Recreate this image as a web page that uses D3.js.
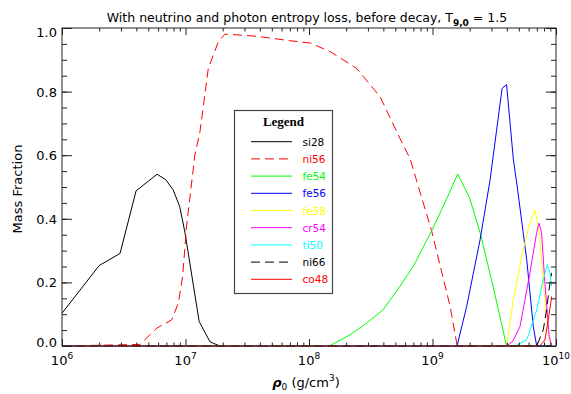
<!DOCTYPE html>
<html>
<head>
<meta charset="utf-8">
<script src="https://cdn.jsdelivr.net/npm/d3@7"></script>
<style>
  body { margin: 0; background: #fff; }
  svg { display: block; font-family: "DejaVu Sans", sans-serif; }
</style>
</head>
<body>
<div id="chart"></div>
<script>
// [rho0 (g/cm^3), mass fraction]
const si28 = [[1e6, 0.103], [2e6, 0.253], [2.95e6, 0.291], [3.98e6, 0.488], [5.89e6, 0.54], [6.92e6, 0.523],
  [7.94e6, 0.491], [8.97e6, 0.439], [9.9e6, 0.357], [1.29e7, 0.077], [1.58e7, 0.013], [1.9e7, 0], [9.23e9, 0]];
const ni56 = [[1e6, 0], [4.29e6, 0.005], [5.85e6, 0.056], [7.73e6, 0.082], [8.75e6, 0.135], [9.48e6, 0.219],
  [1.02e7, 0.377], [1.19e7, 0.6], [1.31e7, 0.674], [1.53e7, 0.873], [1.85e7, 0.958], [2.09e7, 0.981],
  [3.78e7, 0.974], [7.0e7, 0.96], [1.02e8, 0.953], [1.48e8, 0.926], [2.43e8, 0.873], [3.76e8, 0.784],
  [5.46e8, 0.652], [6.58e8, 0.589], [9.84e8, 0.362], [1.39e9, 0.124], [1.58e9, 0.003], [1.62e9, 0], [9.23e9, 0]];
const fe54 = [[1e6, 0], [1.46e8, 0], [2.15e8, 0.035], [2.93e8, 0.072], [3.98e8, 0.114], [5.46e8, 0.188],
  [7.0e8, 0.251], [9.84e8, 0.362], [1.3e9, 0.462], [1.6e9, 0.541], [1.99e9, 0.467], [2.43e9, 0.357],
  [3.09e9, 0.188], [3.98e9, 0], [9.23e9, 0]];
const fe56 = [[1e6, 0], [1.58e9, 0], [1.89e9, 0.124], [2.43e9, 0.335], [2.92e9, 0.52], [3.66e9, 0.81],
  [3.98e9, 0.822], [4.51e9, 0.589], [4.86e9, 0.499], [5.79e9, 0.272], [6.55e9, 0.061], [6.98e9, 0], [9.23e9, 0]];
const fe58 = [[1e6, 0], [3.98e9, 0], [4.51e9, 0.146], [5.43e9, 0.304], [6.15e9, 0.388], [6.76e9, 0.428],
  [7.33e9, 0.357], [7.89e9, 0.198], [8.67e9, 0.04], [9.06e9, 0], [9.23e9, 0]];
const cr54 = [[1e6, 0], [3.98e9, 0], [4.47e9, 0.015], [5.11e9, 0.061], [6.15e9, 0.23], [6.98e9, 0.357],
  [7.28e9, 0.386], [7.64e9, 0.357], [8.13e9, 0.198], [8.81e9, 0.03], [9.23e9, 0]];
const ti50 = [[1e6, 0], [4.66e9, 0], [5.79e9, 0.019], [6.98e9, 0.114], [7.89e9, 0.209], [8.51e9, 0.256],
  [8.93e9, 0.23], [9.23e9, 0.188]];
const ni66 = [[1e6, 0], [6.98e9, 0], [7.89e9, 0.051], [8.39e9, 0.114], [8.93e9, 0.198], [9.23e9, 0.23]];
const co48 = [[1e6, 0], [7.41e9, 0], [8.13e9, 0.019], [8.65e9, 0.082], [9.06e9, 0.135], [9.23e9, 0.156]];

const names = ['si28', 'ni56', 'fe54', 'fe56', 'fe58', 'cr54', 'ti50', 'ni66', 'co48'];
const xDecades = [1e6, 1e7, 1e8, 1e9, 1e10];
const yTicks = [0, 0.2, 0.4, 0.6, 0.8, 1.0];

const series = [
  { name: 'si28', data: si28, color: '#000000', dash: null },
  { name: 'ni56', data: ni56, color: '#ff0000', dash: '9,5' },
  { name: 'fe54', data: fe54, color: '#00ff00', dash: null },
  { name: 'fe56', data: fe56, color: '#0000ff', dash: null },
  { name: 'fe58', data: fe58, color: '#ffff00', dash: null },
  { name: 'cr54', data: cr54, color: '#ff00ff', dash: null },
  { name: 'ti50', data: ti50, color: '#00ffff', dash: null },
  { name: 'ni66', data: ni66, color: '#000000', dash: '9,5' },
  { name: 'co48', data: co48, color: '#ff0000', dash: null }
];

const width = 571, height = 394;
const margin = { top: 28, right: 15, bottom: 48, left: 62 };
const x0 = margin.left, x1 = width - margin.right;
const y0 = height - margin.bottom, y1 = margin.top;

const svg = d3.select('#chart').append('svg')
  .attr('width', width)
  .attr('height', height);

const x = d3.scaleLog().domain([1e6, 1e10]).range([x0, x1]);
const y = d3.scaleLinear().domain([0, 1]).range([y0, y1]);

const xMinor = x.ticks().filter(v => !xDecades.includes(v));
const yMinor = y.ticks(20);

const line = d3.line()
  .x(d => x(d[0]))
  .y(d => y(d[1]));

// curves
const plot = svg.append('g');
series.forEach(s => {
  plot.append('path')
    .datum(s.data)
    .attr('fill', 'none')
    .attr('stroke', s.color)
    .attr('stroke-width', 1)
    .attr('stroke-dasharray', s.dash)
    .attr('d', line);
});

// frame + inward ticks on all four sides
function ticks(axis, tx, ty) {
  const g = svg.append('g').attr('transform', `translate(${tx},${ty})`).call(axis);
  g.select('.domain').remove();
  g.selectAll('line').attr('stroke', '#222');
  return g;
}
ticks(d3.axisBottom(x).tickValues(xDecades).tickSize(-7).tickFormat(''), 0, y0);
ticks(d3.axisBottom(x).tickValues(xMinor).tickSize(-3.5).tickFormat(''), 0, y0);
ticks(d3.axisTop(x).tickValues(xDecades).tickSize(-7).tickFormat(''), 0, y1);
ticks(d3.axisTop(x).tickValues(xMinor).tickSize(-3.5).tickFormat(''), 0, y1);
ticks(d3.axisLeft(y).tickValues(yMinor).tickSize(-5).tickFormat(''), x0, 0);
ticks(d3.axisRight(y).tickValues(yMinor).tickSize(-5).tickFormat(''), x1, 0);
ticks(d3.axisRight(y).tickValues(yTicks).tickSize(-10).tickFormat(''), x1, 0);
const yAxis = ticks(d3.axisLeft(y).tickValues(yTicks).tickSize(-10).tickPadding(5).tickFormat(d3.format('.1f')), x0, 0);
yAxis.selectAll('text')
  .attr('font-family', '"DejaVu Sans", sans-serif')
  .attr('font-size', 13)
  .attr('fill', '#000')
  .attr('dy', d => d === 0 ? '0.0em' : d === 1 ? '0.65em' : '0.35em');

svg.append('rect')
  .attr('x', x0).attr('y', y1)
  .attr('width', x1 - x0).attr('height', y0 - y1)
  .attr('fill', 'none')
  .attr('stroke', '#222')
  .attr('stroke-width', 1);

// x tick labels 10^n
const xl = svg.append('g').selectAll('text')
  .data(xDecades)
  .join('text')
  .attr('x', d => x(d))
  .attr('y', y0 + 19)
  .attr('text-anchor', 'middle')
  .attr('font-size', 13);
xl.append('tspan').text('10');
xl.append('tspan').attr('dy', -6).attr('font-size', 9).text(d => Math.round(Math.log10(d)));

// title
const title = svg.append('text')
  .attr('x', (x0 + x1) / 2 - 2)
  .attr('y', 22)
  .attr('text-anchor', 'middle')
  .attr('font-size', 12.5);
title.append('tspan').text('With neutrino and photon entropy loss, before decay, T');
title.append('tspan').attr('dy', 4).attr('font-size', 9).attr('font-weight', 'bold').text('9,0');
title.append('tspan').attr('dy', -4).text(' = 1.5');

// axis titles
const xt = svg.append('text')
  .attr('x', (x0 + x1) / 2 - 3)
  .attr('y', 387)
  .attr('text-anchor', 'middle')
  .attr('font-size', 13);
xt.append('tspan').attr('font-weight', 'bold').attr('font-style', 'italic').text('ρ');
xt.append('tspan').attr('dy', 3).attr('font-size', 9).text('0');
xt.append('tspan').attr('dy', -3).text(' (g/cm');
xt.append('tspan').attr('dy', -6).attr('font-size', 9).text('3');
xt.append('tspan').attr('dy', 6).text(')');

svg.append('text')
  .attr('transform', `translate(22,${(y0 + y1) / 2 + 2}) rotate(-90)`)
  .attr('text-anchor', 'middle')
  .attr('font-size', 13)
  .text('Mass Fraction');

// legend
const lg = svg.append('g');
lg.append('rect')
  .attr('x', 234.5).attr('y', 110.5)
  .attr('width', 98).attr('height', 183)
  .attr('fill', '#fff')
  .attr('stroke', '#444')
  .attr('stroke-width', 1.2);
lg.append('text')
  .attr('x', 283.5).attr('y', 126)
  .attr('text-anchor', 'middle')
  .attr('font-family', '"Liberation Serif", "DejaVu Serif", serif')
  .attr('font-weight', 'bold')
  .attr('font-size', 13)
  .text('Legend');

const row = lg.selectAll('g.row')
  .data(series)
  .join('g')
  .attr('class', 'row')
  .attr('transform', (d, i) => `translate(0,${141.7 + i * 17.2})`);
row.append('line')
  .attr('x1', 251).attr('x2', 292)
  .attr('stroke', d => d.color)
  .attr('stroke-dasharray', d => d.dash);
row.append('text')
  .attr('x', 302.5).attr('y', 4)
  .attr('font-size', 10.5)
  .attr('fill', d => d.color)
  .text(d => d.name);
</script>
</body>
</html>
